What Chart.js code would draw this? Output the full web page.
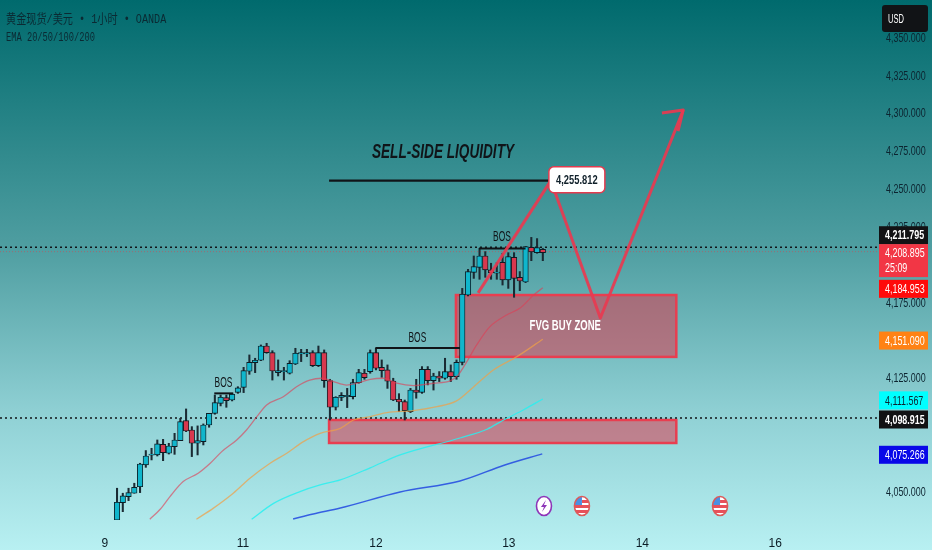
<!DOCTYPE html>
<html>
<head>
<meta charset="utf-8">
<script src="https://cdn.jsdelivr.net/npm/chart.js@4"></script>
<style>
  html, body { margin: 0; padding: 0; }
  body { width: 932px; height: 550px; overflow: hidden; background: linear-gradient(180deg, #006a6d 0%, #4f9ea1 45%, #8fd0d4 75%, #b8f0f2 100%); }
  #wrap { position: relative; width: 932px; height: 550px; }
</style>
</head>
<body>
<div id="wrap"><canvas id="chart" width="932" height="550"></canvas></div>
<script>
// Candles, one per hour
const opens = [4031.5,4043,4047,4049.2,4053.5,4067.9,4074.3,4074.5,4081.5,4075.6,4080,4084,4097.2,4091,4082.2,4083.3,4094.3,4102,4108.6,4112.4,4110.8,4115.9,4119.2,4129.8,4135.5,4137.1,4146.5,4142.1,4128.9,4129.6,4128.5,4134.6,4141.2,4141.2,4142.1,4133.5,4142.1,4123.6,4106,4112.6,4113,4113,4122.3,4128.5,4129.6,4142.1,4132.4,4130.7,4123.4,4111.3,4109.7,4103.1,4117.4,4115.9,4131.1,4123.6,4126.7,4125.2,4129.6,4126.3,4135.7,4180.2,4195.2,4198.5,4206,4196.8,4194.6,4201.8,4190.2,4205.1,4191.9,4188.8,4211.7,4208.2,4210.4];
const highs = [4052.5,4049.2,4052.5,4055.8,4069,4077.4,4078.9,4084.4,4084.8,4082.2,4088.8,4098.7,4104.9,4093.2,4093.7,4095,4102,4114.1,4114.1,4114.1,4115.2,4119.6,4132.4,4140.6,4138.4,4147.2,4148.3,4143.4,4137.3,4132.4,4136.8,4145,4144.3,4144.3,4143.4,4146.5,4143.9,4124.5,4113,4115.7,4118.5,4124.5,4131.1,4131.1,4143.9,4145,4137.3,4134,4125.2,4115,4110.8,4118.5,4124.5,4132.9,4132.9,4128.5,4129.6,4138.4,4134,4137.3,4184.6,4197.2,4206,4211,4208.9,4201.2,4201.6,4207.8,4208.2,4208.2,4195.7,4212.2,4218.3,4217.5,4211];
const lows = [4031.5,4037,4044.3,4049.2,4049.6,4066.3,4071.2,4073.8,4070.7,4075.1,4074.9,4084,4089.9,4073.4,4074.5,4081.1,4092.8,4101.4,4106.9,4106,4110.2,4115.2,4115.7,4127.8,4128.9,4136.8,4141.7,4124,4126.7,4124,4128,4134.2,4136.2,4139.5,4132.9,4132.9,4119.2,4097.6,4104.2,4110.4,4105.8,4111.5,4121.9,4124.5,4128.5,4130.7,4125.8,4118.5,4110.4,4103.1,4097.6,4102.5,4112,4115.2,4120.8,4117.4,4123,4124.5,4123,4124.5,4134,4179.6,4191.2,4190.6,4191.9,4190.6,4190.6,4186.8,4184.6,4178.7,4183.1,4188.4,4202.9,4207.8,4202.9];
const closes = [4043.2,4047.4,4049.6,4053.1,4068.5,4073.8,4075.1,4081.8,4076,4080.4,4084.4,4096.5,4090.3,4082.2,4084,4094.3,4102,4109.1,4112.6,4110.4,4114.6,4118.8,4130.2,4135.7,4137.1,4146.5,4142.1,4130,4130.2,4130.2,4135,4141.7,4142.1,4142.1,4133.5,4142.1,4123.6,4106,4112.6,4113.9,4113.9,4122.3,4128.9,4125.6,4142.1,4131.8,4130.2,4123.2,4110.8,4109.5,4103.8,4117.4,4115.9,4131.1,4123.6,4126.7,4125.2,4129.6,4126.3,4135.7,4180.7,4195.7,4199,4206,4196.8,4195,4195.4,4190.2,4205.6,4191.2,4189.5,4212.2,4208.7,4211.5,4208.2];

// EMA lines, sampled at candle positions
const ema20X = [5.7,7.5,9.2,11.5,14.1,16.2,18.2,20.8,22.5,24.3,26,28.9,31.2,33.5,35.6,37.6,39.9,41.7,44,46.3,48.6,51.5,55,57.9,59.3,60.8,62.5,64.8,67.7,70,72.4,74];
const ema20Y = [4032,4038.6,4047,4056.9,4062.4,4069,4076.7,4084.4,4091,4099.8,4107.5,4113,4119.6,4124,4125.2,4123,4120.7,4121.9,4124.5,4125.2,4121.9,4120.3,4121.9,4123.4,4127.4,4136.2,4147.2,4159.3,4167,4171.4,4180.2,4185];
const ema50X = [13.8,16.7,20.2,23.1,26.6,29.5,32.4,35.3,38.8,41.1,44,46.9,51.5,55.6,59,62,65.4,69.5,74];
const ema50Y = [4032,4039.2,4049.2,4059.1,4069,4075.6,4083.3,4088.8,4092.1,4097.6,4099.8,4102.5,4103.8,4106.4,4110.2,4119.6,4130.7,4139.5,4151];
const ema100X = [23.4,27.2,31.8,35.3,38.8,44,49.2,59.6,64.3,67.2,70.6,74];
const ema100Y = [4032,4042.5,4050.3,4054.7,4058,4066,4074.5,4085.7,4091.5,4097.6,4104.2,4111.5];
const ema200X = [30.6,34.1,38.8,49.2,59.6,67.4,73.9];
const ema200Y = [4032.2,4035.5,4039.4,4050,4057.3,4067.9,4075.2];

// Axes
const priceTicks = [4050,4125,4175,4225,4250,4275,4300,4325,4350];
const dayLabels = ["9","11","12","13","14","16"];
const dayPositions = [-2.1,21.9,45,68.1,91.3,114.4];

// Price tags on the right side
const tagValues = [4211.795,4208.895,4184.953,4151.09,4111.567,4098.915,4075.266];
const tagTexts = ["4,211.795","4,208.895","4,184.953","4,151.090","4,111.567","4,098.915","4,075.266"];

// Drawn levels
const currentPrice = 4208.895;
const upperDotted = 4211.795;
const lowerDotted = 4098.915;
const liquidityX = [36.85,75.4];
const liquidityY = [4255.8,4255.8];
const targetPrice = "4,255.812";
const bos1X = [16.9,20.2];
const bos1Y = [4115.2,4115.2];
const bos2X = [44.9,59.6];
const bos2Y = [4145.2,4145.2];
const bos3X = [62.9,71];
const bos3Y = [4210.9,4210.9];
const pathX = [62.75,75.4,84,98.4];
const pathY = [4181.6,4255.8,4165,4302.5];
const headX = [94.7,98.4,97.5];
const headY = [4300.5,4302.5,4288.6];
const fvgZoneX = [58.9,97.2];
const fvgZoneY = [4139.3,4180.2];
const lowZoneX = [36.85,97.2];
const lowZoneY = [4082.4,4097.6];
const eventX = [74.2,80.8,104.8];

const SANS = '"Liberation Sans", sans-serif';
const MONO = '"Liberation Mono", "Noto Sans CJK SC", monospace';
const INK = "#0c2430";
const RED = "rgba(232,58,80,0.92)";

const zip = (xs, ys) => xs.map((x, i) => ({ x, y: ys[i] }));
const idx = opens.map((_, i) => i);

const lineSet = (xs, ys, color, width, extra) => ({
  type: "line", data: zip(xs, ys), borderColor: color, borderWidth: width,
  pointRadius: 0, tension: 0, fill: false, order: 1, ...extra
});

// The original lettering is much narrower than any installed face, so squeeze it
const text = (ctx, str, x, y, font, color, align, squeeze = 0.66) => {
  ctx.save();
  ctx.translate(x, y);
  ctx.scale(squeeze, 1);
  ctx.font = font;
  ctx.fillStyle = color;
  ctx.textAlign = align || "center";
  ctx.textBaseline = "middle";
  ctx.fillText(str, 0, 0);
  ctx.restore();
};

const roundBox = (ctx, x, y, w, h, r) => {
  ctx.beginPath();
  ctx.roundRect(x, y, w, h, r);
};

// Zones go under the candles
const zonePlugin = {
  id: "zones",
  beforeDatasetsDraw(chart) {
    const { ctx, scales: { x, y } } = chart;
    [[fvgZoneX, fvgZoneY], [lowZoneX, lowZoneY]].forEach(([xs, ys]) => {
      const l = x.getPixelForValue(xs[0]), r = x.getPixelForValue(xs[1]);
      const t = y.getPixelForValue(ys[1]), b = y.getPixelForValue(ys[0]);
      ctx.fillStyle = "rgba(226,52,72,0.52)";
      ctx.fillRect(l, t, r - l, b - t);
      ctx.strokeStyle = "#e83e50";
      ctx.lineWidth = 2.5;
      ctx.strokeRect(l, t, r - l, b - t);
    });
  }
};

const drawFlag = (ctx, cx, cy) => {
  ctx.save();
  ctx.beginPath();
  ctx.ellipse(cx, cy, 7.5, 9.5, 0, 0, Math.PI * 2);
  ctx.fillStyle = "#fff";
  ctx.fill();
  ctx.clip();
  ctx.fillStyle = "#e8505a";
  ctx.fillRect(cx - 8, cy - 1, 16, 3);
  ctx.fillRect(cx - 8, cy + 4, 16, 3);
  ctx.fillRect(cx, cy - 6, 8, 3);
  ctx.fillStyle = "#4a90e2";
  ctx.fillRect(cx - 8, cy - 10, 8, 9);
  ctx.restore();
  ctx.beginPath();
  ctx.ellipse(cx, cy, 7.5, 9.5, 0, 0, Math.PI * 2);
  ctx.strokeStyle = "#dc5a5a";
  ctx.lineWidth = 1.6;
  ctx.stroke();
};

const drawBolt = (ctx, cx, cy) => {
  ctx.beginPath();
  ctx.ellipse(cx, cy, 7.5, 9.5, 0, 0, Math.PI * 2);
  ctx.fillStyle = "#fff";
  ctx.fill();
  ctx.strokeStyle = "#8e35b8";
  ctx.lineWidth = 1.6;
  ctx.stroke();
  ctx.beginPath();
  ctx.moveTo(cx + 2, cy - 6);
  ctx.lineTo(cx - 3, cy + 1);
  ctx.lineTo(cx, cy + 1);
  ctx.lineTo(cx - 2, cy + 6);
  ctx.lineTo(cx + 3, cy - 1);
  ctx.lineTo(cx, cy - 1);
  ctx.closePath();
  ctx.fillStyle = "#8e35b8";
  ctx.fill();
};

const tagFill = ["#121214", "#f23645", "#ff0a0a", "#ff8214", "#00ffff", "#121214", "#0808e8"];
const tagInk = ["#fff", "#fff", "#fff", "#fff", "#0c2430", "#fff", "#fff"];
const tagNudge = [-12, 9, 1, 1.5, 1.5, 1.5, 1];

const overlayPlugin = {
  id: "overlay",
  afterDraw(chart) {
    const { ctx, scales: { x, y } } = chart;
    ctx.save();

    // header
    text(ctx, "黄金现货/美元 • 1小时 • OANDA", 6, 20, '13px ' + MONO, "#0b2a33", "left", 0.78);
    text(ctx, "EMA 20/50/100/200", 6, 37.5, '13px ' + MONO, "#0b2a33", "left", 0.67);

    // annotations
    text(ctx, "SELL-SIDE LIQUIDITY", 443, 152, 'italic bold 20px ' + SANS, "#101418", "center", 0.68);
    text(ctx, "BOS", x.getPixelForValue(18.5), 383, '14px ' + SANS, "#101418", "center", 0.6);
    text(ctx, "BOS", x.getPixelForValue(52.2), 338, '14px ' + SANS, "#101418", "center", 0.6);
    text(ctx, "BOS", x.getPixelForValue(66.9), 237, '14px ' + SANS, "#101418", "center", 0.6);
    text(ctx, "FVG BUY ZONE", x.getPixelForValue(77.9), 326, 'bold 14px ' + SANS, "#fff", "center", 0.68);

    // target label
    const tx = x.getPixelForValue(liquidityX[1]) - 2;
    const ty = y.getPixelForValue(liquidityY[1]) - 1;
    roundBox(ctx, tx, ty - 13, 56, 26, 5);
    ctx.fillStyle = "#fff";
    ctx.fill();
    ctx.strokeStyle = "#e23b4e";
    ctx.lineWidth = 1.5;
    ctx.stroke();
    text(ctx, targetPrice, tx + 28, ty + 0.5, 'bold 13px ' + SANS, "#10202a", "center", 0.72);

    // events
    drawBolt(ctx, x.getPixelForValue(eventX[0]), 506);
    drawFlag(ctx, x.getPixelForValue(eventX[1]), 506);
    drawFlag(ctx, x.getPixelForValue(eventX[2]), 506);

    // USD button
    roundBox(ctx, 882, 5, 46, 27, 3);
    ctx.fillStyle = "#111316";
    ctx.fill();
    text(ctx, "USD", 888, 19, '13px ' + SANS, "#fff", "left", 0.58);

    // price tags
    tagValues.forEach((v, i) => {
      const cy = y.getPixelForValue(v) + tagNudge[i];
      const h = i === 1 ? 33 : 18;
      ctx.fillStyle = tagFill[i];
      ctx.fillRect(879, cy - h / 2, 49, h);
      if (i === 1) {
        text(ctx, tagTexts[i], 885, cy - 7, '13.5px ' + SANS, tagInk[i], "left");
        text(ctx, "25:09", 885, cy + 8, '13.5px ' + SANS, tagInk[i], "left");
      } else {
        text(ctx, tagTexts[i], 885, cy + 0.5, (i === 0 || i === 5 ? 'bold ' : '') + '13.5px ' + SANS, tagInk[i], "left");
      }
    });
    ctx.restore();
  }
};

const xEnds = [-20.34, 132.6];

new Chart(document.getElementById("chart").getContext("2d"), {
  type: "bar",
  data: {
    datasets: [
      lineSet(ema20X, ema20Y, "rgba(222,62,84,0.62)", 1.3, { cubicInterpolationMode: "monotone", order: 2 }),
      lineSet(ema50X, ema50Y, "rgba(240,160,70,0.72)", 1.3, { cubicInterpolationMode: "monotone", order: 2 }),
      lineSet(ema100X, ema100Y, "rgba(40,240,240,0.85)", 1.3, { cubicInterpolationMode: "monotone", order: 2 }),
      lineSet(ema200X, ema200Y, "rgba(40,80,225,0.9)", 1.5, { cubicInterpolationMode: "monotone", order: 2 }),
      lineSet(xEnds, [currentPrice, currentPrice], "rgba(214,70,80,0.55)", 1, { borderDash: [1, 2], order: 6 }),
      lineSet(xEnds, [upperDotted, upperDotted], "#101418", 1.6, { borderDash: [2, 3], order: 5 }),
      lineSet(xEnds, [lowerDotted, lowerDotted], "#101418", 1.6, { borderDash: [2, 3], order: 5 }),
      lineSet(liquidityX, liquidityY, "#101418", 2.2),
      lineSet(bos1X, bos1Y, "#101418", 2),
      lineSet(bos2X, bos2Y, "#101418", 2),
      lineSet(bos3X, bos3Y, "#101418", 2),
      lineSet(pathX, pathY, RED, 3, { borderJoinStyle: "round", order: 0 }),
      lineSet(headX, headY, RED, 3, { borderJoinStyle: "round", order: 0 }),
      {
        label: "bodies",
        data: idx.map((i) => ({ x: i, y: [opens[i], closes[i]] })),
        backgroundColor: idx.map((i) => (closes[i] >= opens[i] ? "#10b6cc" : "#d8384e")),
        borderColor: "#0d1c24",
        borderWidth: 0.9,
        borderSkipped: false,
        barThickness: 5.5,
        grouped: false,
        order: 3
      },
      {
        label: "wicks",
        data: idx.map((i) => ({ x: i, y: [lows[i], highs[i]] })),
        backgroundColor: "#1a2a33",
        barThickness: 1.4,
        grouped: false,
        order: 4
      }
    ]
  },
  options: {
    responsive: false,
    animation: false,
    layout: { padding: 0 },
    plugins: { legend: { display: false }, tooltip: { enabled: false }, title: { display: false } },
    scales: {
      x: {
        type: "linear",
        min: xEnds[0],
        max: xEnds[1],
        offset: false,
        grid: { display: false },
        border: { display: false },
        afterFit: (s) => { s.height = 30; s.paddingLeft = 0; s.paddingRight = 0; },
        afterBuildTicks: (s) => { s.ticks = dayPositions.map((value) => ({ value })); },
        ticks: {
          autoSkip: false,
          maxRotation: 0,
          padding: 8,
          color: "#0b1d26",
          font: { family: SANS, size: 12 },
          callback: (value) => dayLabels[dayPositions.indexOf(value)]
        }
      },
      y: {
        position: "right",
        min: 4031.5,
        max: 4375.2,
        grid: { display: false, drawTicks: false },
        border: { display: false },
        afterFit: (s) => { s.width = 52; s.paddingTop = 0; s.paddingBottom = 0; },
        afterUpdate: (s) => {
          // same squeeze as the other lettering, anchored at the left of the labels
          const draw = Object.getPrototypeOf(s).drawLabels;
          s._computeLabelArea = () => undefined;
          s.drawLabels = function (area) {
            const ctx = this.ctx;
            const ox = this.left + 6;
            ctx.save();
            ctx.translate(ox, 0);
            ctx.scale(0.66, 1);
            ctx.translate(-ox, 0);
            draw.call(this, area);
            ctx.restore();
          };
        },
        afterBuildTicks: (s) => { s.ticks = priceTicks.map((value) => ({ value })); },
        ticks: {
          autoSkip: false,
          padding: 6,
          color: INK,
          font: { family: SANS, size: 13.5 },
          callback: (value) => value.toLocaleString("en-US", { minimumFractionDigits: 3 })
        }
      }
    }
  },
  plugins: [zonePlugin, overlayPlugin]
});
</script>
</body>
</html>
